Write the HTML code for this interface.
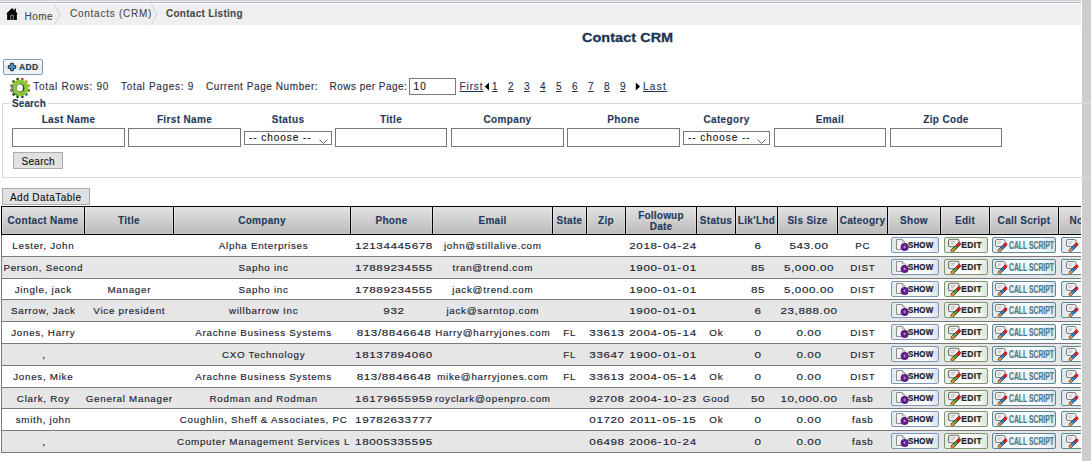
<!DOCTYPE html>
<html><head><meta charset="utf-8"><style>html,body{margin:0;padding:0;background:#fff;width:1091px;height:461px;overflow:hidden;position:relative}
.t{position:absolute;white-space:pre;line-height:1;font-family:"Liberation Sans",sans-serif;-webkit-text-stroke:0.12px currentColor}
.btn{position:absolute;width:48px;height:16px;box-sizing:border-box;border:1px solid #7b98bb;border-radius:2px;overflow:hidden}
.btn svg{position:absolute;left:-1px;top:-1px}
.btn b{position:absolute;top:3px;font:bold 8px/10px "Liberation Sans",sans-serif;color:#14202f;white-space:pre;-webkit-text-stroke:0.2px currentColor}
.show{width:48px;border-color:#7b98bb;background:linear-gradient(90deg,rgba(200,212,225,.5),rgba(255,255,255,0) 25%,rgba(255,255,255,0) 75%,rgba(200,212,225,.6)),linear-gradient(#fff,#eef2f5 50%,#fff)}
.edit{width:44px;border-color:#7d9870;background:linear-gradient(90deg,rgba(205,220,200,.5),rgba(255,255,255,0) 25%,rgba(255,255,255,0) 75%,rgba(205,220,200,.6)),linear-gradient(#fff,#eef3ec 50%,#fff)}
.cs{width:64px;border-color:#5b8797;background:linear-gradient(90deg,rgba(195,215,222,.5),rgba(255,255,255,0) 25%,rgba(255,255,255,0) 75%,rgba(195,215,222,.6)),linear-gradient(#fff,#ebf1f3 50%,#fff)}
.nt{width:60px;border-color:#5b8797;background:linear-gradient(90deg,rgba(195,215,222,.5),rgba(255,255,255,0) 25%),linear-gradient(#fff,#ebf1f3 50%,#fff)}
.csb{left:16px;top:1.5px !important;font-size:11px !important;line-height:11px !important;color:#4b7b8b !important;transform:scaleX(0.62);transform-origin:0 0;letter-spacing:0px}
.shb{left:16px;top:2px !important;font-size:9px !important;transform:scaleX(0.88);transform-origin:0 0;letter-spacing:0.2px}
.edb{left:16.3px;top:2px !important;color:#262626 !important;font-size:8.5px !important;letter-spacing:0.35px}
</style></head>
<body>
<div style="position:absolute;left:0px;top:0px;width:1081px;height:1px;background:#d3d3d3"></div>
<div style="position:absolute;left:0px;top:1px;width:1081px;height:1px;background:#f0f0ee"></div>
<div style="position:absolute;left:0px;top:2px;width:1081px;height:1px;background:#aab4cb"></div>
<div style="position:absolute;left:0px;top:4px;width:1081px;height:21px;background:#efefef"></div>
<div style="position:absolute;left:1082px;top:0px;width:9px;height:461px;background:#cdcdcd"></div>
<svg style="position:absolute;left:4px;top:5px" width="18" height="18" viewBox="0 0 18 18">
<rect x="10.6" y="3.6" width="1.4" height="3" fill="#000"/>
<polygon points="2.2,8.7 8,3 13.8,8.7" fill="#000"/>
<rect x="3.1" y="8.3" width="9.8" height="6.6" fill="#000"/>
<path d="M6.8 14.9 V10.3 H9.4 V14.9" fill="none" stroke="#9a9a9a" stroke-width="0.9"/>
</svg>
<div class="t" style="left:24.5px;top:11.54px;font-size:10px;color:#4a4a4a;font-weight:normal;letter-spacing:0.45px;">Home</div>
<svg style="position:absolute;left:0;top:0" width="200" height="30">
<polyline points="54,4 60,14.5 54,25" fill="none" stroke="#d2d2d2" stroke-width="1"/>
<polyline points="151,4 157,14.5 151,25" fill="none" stroke="#d2d2d2" stroke-width="1"/>
</svg>
<div class="t" style="left:70px;top:8.54px;font-size:10px;color:#4a4a4a;font-weight:normal;letter-spacing:0.75px;">Contacts (CRM)</div>
<div class="t" style="left:166px;top:8.54px;font-size:10px;color:#4a4a4a;font-weight:bold;letter-spacing:0.27px;">Contact Listing</div>
<div class="t" style="left:582px;top:31.0px;font-size:13px;color:#1c3352;font-weight:bold;letter-spacing:0.05px;transform:scaleX(1.11);transform-origin:0 0;-webkit-text-stroke:0.3px currentColor;">Contact CRM</div>
<div style="position:absolute;left:3px;top:59px;width:38px;height:14px;border:1px solid #7e9cb0;border-radius:2px;background:linear-gradient(#fbfcfc,#e3e9ec 55%,#f4f6f7)"></div>
<svg style="position:absolute;left:7px;top:62px" width="10" height="10" viewBox="0 0 10 10">
<path d="M3.6 1.3 H6.4 V3.6 H8.7 V6.4 H6.4 V8.7 H3.6 V6.4 H1.3 V3.6 H3.6 Z" fill="#3aa0e8" stroke="#3a2a22" stroke-width="1"/>
</svg>
<div class="t" style="left:19px;top:62.8px;font-size:8.5px;color:#1b3a52;font-weight:bold;letter-spacing:0.3px;">ADD</div>
<svg style="position:absolute;left:9px;top:77px" width="22" height="22" viewBox="0 0 22 22"><rect x="7.17" y="1.39" width="3.2" height="2.6" fill="#8cc43c" transform="rotate(-15 8.77 2.69)"/><rect x="11.63" y="1.39" width="3.2" height="2.6" fill="#8cc43c" transform="rotate(15 13.23 2.69)"/><rect x="15.48" y="3.62" width="3.2" height="2.6" fill="#8cc43c" transform="rotate(45 17.08 4.92)"/><rect x="17.71" y="7.47" width="3.2" height="2.6" fill="#8cc43c" transform="rotate(75 19.31 8.77)"/><rect x="17.71" y="11.93" width="3.2" height="2.6" fill="#8cc43c" transform="rotate(105 19.31 13.23)"/><rect x="15.48" y="15.78" width="3.2" height="2.6" fill="#8cc43c" transform="rotate(135 17.08 17.08)"/><rect x="11.63" y="18.01" width="3.2" height="2.6" fill="#8cc43c" transform="rotate(165 13.23 19.31)"/><rect x="7.17" y="18.01" width="3.2" height="2.6" fill="#8cc43c" transform="rotate(195 8.77 19.31)"/><rect x="3.32" y="15.78" width="3.2" height="2.6" fill="#8cc43c" transform="rotate(225 4.92 17.08)"/><rect x="1.09" y="11.93" width="3.2" height="2.6" fill="#8cc43c" transform="rotate(255 2.69 13.23)"/><rect x="1.09" y="7.47" width="3.2" height="2.6" fill="#8cc43c" transform="rotate(285 2.69 8.77)"/><rect x="3.32" y="3.62" width="3.2" height="2.6" fill="#8cc43c" transform="rotate(315 4.92 4.92)"/><circle cx="11" cy="11" r="8" fill="#8cc43c"/><circle cx="8.57" cy="1.92" r="1.05" fill="#1a1a50"/><circle cx="13.43" cy="1.92" r="1.05" fill="#d42a2a"/><circle cx="17.65" cy="4.35" r="1.05" fill="#f4a030"/><circle cx="20.08" cy="8.57" r="1.05" fill="#e09a30"/><circle cx="20.08" cy="13.43" r="1.05" fill="#3a5a20"/><circle cx="17.65" cy="17.65" r="1.05" fill="#2a5ab0"/><circle cx="13.43" cy="20.08" r="1.05" fill="#10207a"/><circle cx="8.57" cy="20.08" r="1.05" fill="#1a1a50"/><circle cx="4.35" cy="17.65" r="1.05" fill="#1a2a70"/><circle cx="1.92" cy="13.43" r="1.05" fill="#d04a9a"/><circle cx="1.92" cy="8.57" r="1.05" fill="#e060a0"/><circle cx="4.35" cy="4.35" r="1.05" fill="#202050"/><path d="M3.6 8 A7.8 7.8 0 0 0 8.5 18.5" fill="none" stroke="#1a2050" stroke-width="1" opacity="0.7"/><ellipse cx="11.8" cy="11" rx="3.5" ry="3.8" fill="#1a2050"/><ellipse cx="11.1" cy="10.9" rx="3" ry="3.4" fill="#fff"/></svg>
<div class="t" style="left:33.3px;top:81.53px;font-size:10px;color:#2d2d44;font-weight:normal;letter-spacing:0.72px;">Total Rows: 90</div>
<div class="t" style="left:121px;top:81.53px;font-size:10px;color:#2d2d44;font-weight:normal;letter-spacing:0.68px;">Total Pages: 9</div>
<div class="t" style="left:206px;top:81.53px;font-size:10px;color:#2d2d44;font-weight:normal;letter-spacing:0.58px;">Current Page Number:</div>
<div class="t" style="left:329.5px;top:81.53px;font-size:10px;color:#2d2d44;font-weight:normal;letter-spacing:0.48px;">Rows per Page:</div>
<div style="position:absolute;left:409px;top:78px;width:45px;height:15px;border:1px solid #7a7a7a;background:#fff"></div>
<div class="t" style="left:413.5px;top:81.53px;font-size:10px;color:#111;font-weight:normal;letter-spacing:1.2px;">10</div>
<div class="t" style="left:459.5px;top:81.53px;font-size:10px;color:#1c3352;font-weight:normal;letter-spacing:0.9px;text-decoration:underline;">First</div>
<svg style="position:absolute;left:484px;top:82px" width="6" height="9"><polygon points="5,0.5 5,8.5 0.8,4.5" fill="#000"/></svg>
<div class="t" style="left:492px;top:81.53px;font-size:10px;color:#1c3352;font-weight:normal;letter-spacing:0px;text-decoration:underline;">1</div>
<div class="t" style="left:508px;top:81.53px;font-size:10px;color:#1c3352;font-weight:normal;letter-spacing:0px;text-decoration:underline;">2</div>
<div class="t" style="left:524px;top:81.53px;font-size:10px;color:#1c3352;font-weight:normal;letter-spacing:0px;text-decoration:underline;">3</div>
<div class="t" style="left:540px;top:81.53px;font-size:10px;color:#1c3352;font-weight:normal;letter-spacing:0px;text-decoration:underline;">4</div>
<div class="t" style="left:556px;top:81.53px;font-size:10px;color:#1c3352;font-weight:normal;letter-spacing:0px;text-decoration:underline;">5</div>
<div class="t" style="left:572px;top:81.53px;font-size:10px;color:#1c3352;font-weight:normal;letter-spacing:0px;text-decoration:underline;">6</div>
<div class="t" style="left:588px;top:81.53px;font-size:10px;color:#1c3352;font-weight:normal;letter-spacing:0px;text-decoration:underline;">7</div>
<div class="t" style="left:604px;top:81.53px;font-size:10px;color:#1c3352;font-weight:normal;letter-spacing:0px;text-decoration:underline;">8</div>
<div class="t" style="left:620px;top:81.53px;font-size:10px;color:#1c3352;font-weight:normal;letter-spacing:0px;text-decoration:underline;">9</div>
<svg style="position:absolute;left:635px;top:82px" width="6" height="9"><polygon points="0.8,0.5 0.8,8.5 5,4.5" fill="#000"/></svg>
<div class="t" style="left:643px;top:81.53px;font-size:10px;color:#1c3352;font-weight:normal;letter-spacing:1.3px;text-decoration:underline;">Last</div>
<div style="position:absolute;left:2px;top:103px;width:1090px;height:75px;border:1px solid #dadada;border-right:none;box-sizing:border-box"></div>
<div style="position:absolute;left:10px;top:98px;width:38px;height:10px;background:#fff"></div>
<div class="t" style="left:12px;top:98.53px;font-size:10px;color:#1f3a5c;font-weight:bold;letter-spacing:0.1px;">Search</div>
<div class="t" style="left:-231.5px;width:600px;text-align:center;top:114.53px;font-size:10px;color:#1f3a5c;font-weight:bold;letter-spacing:0.35px;">Last Name</div>
<div style="position:absolute;left:12px;top:128px;width:111px;height:17px;border:1px solid #777;background:#fff"></div>
<div class="t" style="left:-115.5px;width:600px;text-align:center;top:114.53px;font-size:10px;color:#1f3a5c;font-weight:bold;letter-spacing:0.35px;">First Name</div>
<div style="position:absolute;left:128px;top:128px;width:111px;height:17px;border:1px solid #777;background:#fff"></div>
<div class="t" style="left:-12.0px;width:600px;text-align:center;top:114.53px;font-size:10px;color:#1f3a5c;font-weight:bold;letter-spacing:0.35px;">Status</div>
<div style="position:absolute;left:244px;top:131px;width:86px;height:12px;border:1px solid #777;background:#fff"></div>
<div class="t" style="left:249px;top:132.53px;font-size:10px;color:#111;font-weight:normal;letter-spacing:0.95px;">-- choose --</div>
<svg style="position:absolute;left:319px;top:139px" width="9" height="5"><polyline points="0.5,0.5 4.5,4.5 8.5,0.5" fill="none" stroke="#555" stroke-width="0.9"/></svg>
<div class="t" style="left:91.0px;width:600px;text-align:center;top:114.53px;font-size:10px;color:#1f3a5c;font-weight:bold;letter-spacing:0.35px;">Title</div>
<div style="position:absolute;left:335px;top:128px;width:110px;height:17px;border:1px solid #777;background:#fff"></div>
<div class="t" style="left:207.5px;width:600px;text-align:center;top:114.53px;font-size:10px;color:#1f3a5c;font-weight:bold;letter-spacing:0.35px;">Company</div>
<div style="position:absolute;left:451px;top:128px;width:111px;height:17px;border:1px solid #777;background:#fff"></div>
<div class="t" style="left:323.5px;width:600px;text-align:center;top:114.53px;font-size:10px;color:#1f3a5c;font-weight:bold;letter-spacing:0.35px;">Phone</div>
<div style="position:absolute;left:567px;top:128px;width:111px;height:17px;border:1px solid #777;background:#fff"></div>
<div class="t" style="left:426.5px;width:600px;text-align:center;top:114.53px;font-size:10px;color:#1f3a5c;font-weight:bold;letter-spacing:0.35px;">Category</div>
<div style="position:absolute;left:683px;top:131px;width:85px;height:12px;border:1px solid #777;background:#fff"></div>
<div class="t" style="left:688px;top:132.53px;font-size:10px;color:#111;font-weight:normal;letter-spacing:0.95px;">-- choose --</div>
<svg style="position:absolute;left:757px;top:139px" width="9" height="5"><polyline points="0.5,0.5 4.5,4.5 8.5,0.5" fill="none" stroke="#555" stroke-width="0.9"/></svg>
<div class="t" style="left:530.0px;width:600px;text-align:center;top:114.53px;font-size:10px;color:#1f3a5c;font-weight:bold;letter-spacing:0.35px;">Email</div>
<div style="position:absolute;left:774px;top:128px;width:110px;height:17px;border:1px solid #777;background:#fff"></div>
<div class="t" style="left:646.0px;width:600px;text-align:center;top:114.53px;font-size:10px;color:#1f3a5c;font-weight:bold;letter-spacing:0.35px;">Zip Code</div>
<div style="position:absolute;left:890px;top:128px;width:110px;height:17px;border:1px solid #777;background:#fff"></div>
<div style="position:absolute;left:13px;top:152px;width:48px;height:15px;border:1px solid #adadad;background:#e1e1e1"></div>
<div class="t" style="left:21.5px;top:156.53px;font-size:10px;color:#111;font-weight:normal;letter-spacing:0.3px;">Search</div>
<div style="position:absolute;left:2px;top:188px;width:86px;height:15px;border:1px solid #adadad;background:#e1e1e1"></div>
<div class="t" style="left:10px;top:192.53px;font-size:10px;color:#111;font-weight:normal;letter-spacing:0.45px;">Add DataTable</div>
<svg width="0" height="0" style="position:absolute">
<defs>
<symbol id="ishow" viewBox="0 0 48 16">
<path d="M5.5 2.5 H11.5 L14 5 V12.5 H5.5 Z" fill="#f2f2f2" stroke="#8e8e8e" stroke-width="1"/>
<path d="M11.5 2.5 V5 H14" fill="#ddd" stroke="#9a9a9a" stroke-width="0.8"/>
<circle cx="13.6" cy="10.1" r="4" fill="#5e1f88"/>
<path d="M12.3 9.9 H14.9 M13.6 8.6 V11.2" stroke="#c890e8" stroke-width="0.9"/>
</symbol>
<symbol id="iedit" viewBox="0 0 44 16">
<rect x="4.6" y="2.2" width="10.4" height="7.6" rx="1.8" fill="#f3f3f3" stroke="#6a6a6a" stroke-width="1.1"/>
<path d="M6.8 4.8 H11.5 M6.8 6.8 H10" stroke="#aaa" stroke-width="0.9"/>
<path d="M8.3 13.8 L15 7.1" stroke="#1a2a1a" stroke-width="3.4" stroke-linecap="round"/>
<path d="M8.6 13.5 L14.7 7.4" stroke="#44c030" stroke-width="1.9"/>
<path d="M13.7 8.4 L15.3 6.8" stroke="#e01818" stroke-width="2.8" stroke-linecap="round"/>
<path d="M8.1 14 L9.5 12.6" stroke="#f08a30" stroke-width="2.2" stroke-linecap="round"/>
</symbol>
<symbol id="ics" viewBox="0 0 64 16">
<rect x="3.5" y="2.5" width="9.5" height="7" rx="1.6" fill="#f3f3f3" stroke="#7a7a7a" stroke-width="1"/>
<path d="M5.5 5 H9.5 M5.5 6.8 H8.5" stroke="#b0b0b0" stroke-width="0.8"/>
<path d="M7.3 13.7 L13.5 7.5" stroke="#1a2a4a" stroke-width="3.2" stroke-linecap="round"/>
<path d="M7.5 13.5 L13.3 7.7" stroke="#2a90e0" stroke-width="1.8"/>
<path d="M12.4 8.6 L14 7" stroke="#e02020" stroke-width="2.6" stroke-linecap="round"/>
<path d="M7 14 L8.4 12.6" stroke="#f08a30" stroke-width="2.2" stroke-linecap="round"/>
</symbol>
</defs></svg>
<div style="position:absolute;left:0;top:0;width:1081px;height:461px;overflow:hidden">
<div style="position:absolute;left:1px;top:206px;width:1200px;height:29px;background:#000"></div>
<div style="position:absolute;left:2px;top:207px;width:82px;height:27px;background:linear-gradient(#e3e3e3,#bababa);box-shadow:inset 1px 0 0 rgba(255,255,255,.3),inset -1px 0 0 rgba(255,255,255,.2),inset 0 -1px 0 rgba(255,255,255,.2)"></div>
<div class="t" style="left:-257.0px;width:600px;text-align:center;top:215.53px;font-size:10px;color:#1f3a5c;font-weight:bold;letter-spacing:0.3px;">Contact Name</div>
<div style="position:absolute;left:85px;top:207px;width:88px;height:27px;background:linear-gradient(#e3e3e3,#bababa);box-shadow:inset 1px 0 0 rgba(255,255,255,.3),inset -1px 0 0 rgba(255,255,255,.2),inset 0 -1px 0 rgba(255,255,255,.2)"></div>
<div class="t" style="left:-171.0px;width:600px;text-align:center;top:215.53px;font-size:10px;color:#1f3a5c;font-weight:bold;letter-spacing:0.3px;">Title</div>
<div style="position:absolute;left:174px;top:207px;width:176px;height:27px;background:linear-gradient(#e3e3e3,#bababa);box-shadow:inset 1px 0 0 rgba(255,255,255,.3),inset -1px 0 0 rgba(255,255,255,.2),inset 0 -1px 0 rgba(255,255,255,.2)"></div>
<div class="t" style="left:-38.0px;width:600px;text-align:center;top:215.53px;font-size:10px;color:#1f3a5c;font-weight:bold;letter-spacing:0.3px;">Company</div>
<div style="position:absolute;left:351px;top:207px;width:81px;height:27px;background:linear-gradient(#e3e3e3,#bababa);box-shadow:inset 1px 0 0 rgba(255,255,255,.3),inset -1px 0 0 rgba(255,255,255,.2),inset 0 -1px 0 rgba(255,255,255,.2)"></div>
<div class="t" style="left:91.5px;width:600px;text-align:center;top:215.53px;font-size:10px;color:#1f3a5c;font-weight:bold;letter-spacing:0.3px;">Phone</div>
<div style="position:absolute;left:433px;top:207px;width:119px;height:27px;background:linear-gradient(#e3e3e3,#bababa);box-shadow:inset 1px 0 0 rgba(255,255,255,.3),inset -1px 0 0 rgba(255,255,255,.2),inset 0 -1px 0 rgba(255,255,255,.2)"></div>
<div class="t" style="left:192.5px;width:600px;text-align:center;top:215.53px;font-size:10px;color:#1f3a5c;font-weight:bold;letter-spacing:0.3px;">Email</div>
<div style="position:absolute;left:553px;top:207px;width:33px;height:27px;background:linear-gradient(#e3e3e3,#bababa);box-shadow:inset 1px 0 0 rgba(255,255,255,.3),inset -1px 0 0 rgba(255,255,255,.2),inset 0 -1px 0 rgba(255,255,255,.2)"></div>
<div class="t" style="left:269.5px;width:600px;text-align:center;top:215.53px;font-size:10px;color:#1f3a5c;font-weight:bold;letter-spacing:0.3px;">State</div>
<div style="position:absolute;left:587px;top:207px;width:38px;height:27px;background:linear-gradient(#e3e3e3,#bababa);box-shadow:inset 1px 0 0 rgba(255,255,255,.3),inset -1px 0 0 rgba(255,255,255,.2),inset 0 -1px 0 rgba(255,255,255,.2)"></div>
<div class="t" style="left:306.0px;width:600px;text-align:center;top:215.53px;font-size:10px;color:#1f3a5c;font-weight:bold;letter-spacing:0.3px;">Zip</div>
<div style="position:absolute;left:626px;top:207px;width:70px;height:27px;background:linear-gradient(#e3e3e3,#bababa);box-shadow:inset 1px 0 0 rgba(255,255,255,.3),inset -1px 0 0 rgba(255,255,255,.2),inset 0 -1px 0 rgba(255,255,255,.2)"></div>
<div class="t" style="left:361.0px;width:600px;text-align:center;top:210.53px;font-size:10px;color:#1f3a5c;font-weight:bold;letter-spacing:0.2px;">Followup</div>
<div class="t" style="left:361.0px;width:600px;text-align:center;top:221.53px;font-size:10px;color:#1f3a5c;font-weight:bold;letter-spacing:0.2px;">Date</div>
<div style="position:absolute;left:697px;top:207px;width:38px;height:27px;background:linear-gradient(#e3e3e3,#bababa);box-shadow:inset 1px 0 0 rgba(255,255,255,.3),inset -1px 0 0 rgba(255,255,255,.2),inset 0 -1px 0 rgba(255,255,255,.2)"></div>
<div class="t" style="left:416.0px;width:600px;text-align:center;top:215.53px;font-size:10px;color:#1f3a5c;font-weight:bold;letter-spacing:0.3px;">Status</div>
<div style="position:absolute;left:736px;top:207px;width:41px;height:27px;background:linear-gradient(#e3e3e3,#bababa);box-shadow:inset 1px 0 0 rgba(255,255,255,.3),inset -1px 0 0 rgba(255,255,255,.2),inset 0 -1px 0 rgba(255,255,255,.2)"></div>
<div class="t" style="left:456.5px;width:600px;text-align:center;top:215.53px;font-size:10px;color:#1f3a5c;font-weight:bold;letter-spacing:0.3px;">Lik&#x27;Lhd</div>
<div style="position:absolute;left:778px;top:207px;width:59px;height:27px;background:linear-gradient(#e3e3e3,#bababa);box-shadow:inset 1px 0 0 rgba(255,255,255,.3),inset -1px 0 0 rgba(255,255,255,.2),inset 0 -1px 0 rgba(255,255,255,.2)"></div>
<div class="t" style="left:507.5px;width:600px;text-align:center;top:215.53px;font-size:10px;color:#1f3a5c;font-weight:bold;letter-spacing:0.3px;">Sls Size</div>
<div style="position:absolute;left:838px;top:207px;width:49px;height:27px;background:linear-gradient(#e3e3e3,#bababa);box-shadow:inset 1px 0 0 rgba(255,255,255,.3),inset -1px 0 0 rgba(255,255,255,.2),inset 0 -1px 0 rgba(255,255,255,.2)"></div>
<div class="t" style="left:562.5px;width:600px;text-align:center;top:215.53px;font-size:10px;color:#1f3a5c;font-weight:bold;letter-spacing:0.3px;">Cateogry</div>
<div style="position:absolute;left:888px;top:207px;width:52px;height:27px;background:linear-gradient(#e3e3e3,#bababa);box-shadow:inset 1px 0 0 rgba(255,255,255,.3),inset -1px 0 0 rgba(255,255,255,.2),inset 0 -1px 0 rgba(255,255,255,.2)"></div>
<div class="t" style="left:614.0px;width:600px;text-align:center;top:215.53px;font-size:10px;color:#1f3a5c;font-weight:bold;letter-spacing:0.3px;">Show</div>
<div style="position:absolute;left:941px;top:207px;width:48px;height:27px;background:linear-gradient(#e3e3e3,#bababa);box-shadow:inset 1px 0 0 rgba(255,255,255,.3),inset -1px 0 0 rgba(255,255,255,.2),inset 0 -1px 0 rgba(255,255,255,.2)"></div>
<div class="t" style="left:665.0px;width:600px;text-align:center;top:215.53px;font-size:10px;color:#1f3a5c;font-weight:bold;letter-spacing:0.3px;">Edit</div>
<div style="position:absolute;left:990px;top:207px;width:68px;height:27px;background:linear-gradient(#e3e3e3,#bababa);box-shadow:inset 1px 0 0 rgba(255,255,255,.3),inset -1px 0 0 rgba(255,255,255,.2),inset 0 -1px 0 rgba(255,255,255,.2)"></div>
<div class="t" style="left:724.0px;width:600px;text-align:center;top:215.53px;font-size:10px;color:#1f3a5c;font-weight:bold;letter-spacing:0.3px;">Call Script</div>
<div style="position:absolute;left:1059px;top:207px;width:141px;height:27px;background:linear-gradient(#e3e3e3,#bababa);box-shadow:inset 1px 0 0 rgba(255,255,255,.3),inset -1px 0 0 rgba(255,255,255,.2),inset 0 -1px 0 rgba(255,255,255,.2)"></div>
<div class="t" style="left:1069.5px;top:215.53px;font-size:10px;color:#1f3a5c;font-weight:bold;letter-spacing:0.3px;">Notes</div>
<div style="position:absolute;left:2px;top:235px;width:1200px;height:21px;background:#fff"></div>
<div style="position:absolute;left:1px;top:256px;width:1200px;height:1px;background:#7a7a7a"></div>
<div style="position:absolute;left:1px;top:235px;width:1px;height:21px;background:#7a7a7a"></div>
<div class="t" style="left:-256.7px;width:600px;text-align:center;top:240.7px;font-size:9.8px;color:#202432;font-weight:normal;letter-spacing:0.72px;-webkit-text-stroke:0.15px currentColor;">Lester, John</div>
<div class="t" style="left:-36.39999999999998px;width:600px;text-align:center;top:240.7px;font-size:9.8px;color:#202432;font-weight:normal;letter-spacing:0.72px;-webkit-text-stroke:0.15px currentColor;">Alpha Enterprises</div>
<div class="t" style="left:94.0px;width:600px;text-align:center;top:240.7px;font-size:9.8px;color:#202432;letter-spacing:0.5px;transform:scaleX(1.19);transform-origin:300px 0;-webkit-text-stroke:0.15px currentColor">12134445678</div>
<div class="t" style="left:192.8px;width:600px;text-align:center;top:240.7px;font-size:9.8px;color:#202432;font-weight:normal;letter-spacing:0.72px;-webkit-text-stroke:0.15px currentColor;">john@stillalive.com</div>
<div class="t" style="left:362.79999999999995px;width:600px;text-align:center;top:240.7px;font-size:9.8px;color:#202432;letter-spacing:0.5px;transform:scaleX(1.19);transform-origin:300px 0;-webkit-text-stroke:0.15px currentColor">2018<span style="letter-spacing:1.3px">-</span>04<span style="letter-spacing:1.3px">-</span>24</div>
<div class="t" style="left:457.5px;width:600px;text-align:center;top:240.7px;font-size:9.8px;color:#202432;letter-spacing:0.5px;transform:scaleX(1.19);transform-origin:300px 0;-webkit-text-stroke:0.15px currentColor">6</div>
<div class="t" style="left:508.5px;width:600px;text-align:center;top:240.7px;font-size:9.8px;color:#202432;letter-spacing:0.5px;transform:scaleX(1.19);transform-origin:300px 0;-webkit-text-stroke:0.15px currentColor">543.00</div>
<div class="t" style="left:562.8px;width:600px;text-align:center;top:240.7px;font-size:9.8px;color:#202432;font-weight:normal;letter-spacing:0.72px;-webkit-text-stroke:0.15px currentColor;">PC</div>
<div class="btn show" style="left:891px;top:237px"><svg width="48" height="16"><use href="#ishow"/></svg><b class="shb">SHOW</b></div>
<div class="btn edit" style="left:944px;top:237px"><svg width="44" height="16"><use href="#iedit"/></svg><b class="edb">EDIT</b></div>
<div class="btn cs" style="left:992px;top:237px"><svg width="64" height="16"><use href="#ics"/></svg><b class="csb">CALL SCRIPT</b></div>
<div class="btn nt" style="left:1061px;top:237px"><svg width="64" height="16" style="left:1px"><use href="#ics"/></svg></div>
<div style="position:absolute;left:2px;top:257px;width:1200px;height:21px;background:#e6e6e6"></div>
<div style="position:absolute;left:1px;top:278px;width:1200px;height:1px;background:#7a7a7a"></div>
<div style="position:absolute;left:1px;top:257px;width:1px;height:21px;background:#7a7a7a"></div>
<div class="t" style="left:-256.7px;width:600px;text-align:center;top:262.7px;font-size:9.8px;color:#202432;font-weight:normal;letter-spacing:0.72px;-webkit-text-stroke:0.15px currentColor;">Person, Second</div>
<div class="t" style="left:-36.39999999999998px;width:600px;text-align:center;top:262.7px;font-size:9.8px;color:#202432;font-weight:normal;letter-spacing:0.72px;-webkit-text-stroke:0.15px currentColor;">Sapho inc</div>
<div class="t" style="left:94.0px;width:600px;text-align:center;top:262.7px;font-size:9.8px;color:#202432;letter-spacing:0.5px;transform:scaleX(1.19);transform-origin:300px 0;-webkit-text-stroke:0.15px currentColor">17889234555</div>
<div class="t" style="left:192.8px;width:600px;text-align:center;top:262.7px;font-size:9.8px;color:#202432;font-weight:normal;letter-spacing:0.72px;-webkit-text-stroke:0.15px currentColor;">tran@trend.com</div>
<div class="t" style="left:362.79999999999995px;width:600px;text-align:center;top:262.7px;font-size:9.8px;color:#202432;letter-spacing:0.5px;transform:scaleX(1.19);transform-origin:300px 0;-webkit-text-stroke:0.15px currentColor">1900<span style="letter-spacing:1.3px">-</span>01<span style="letter-spacing:1.3px">-</span>01</div>
<div class="t" style="left:457.5px;width:600px;text-align:center;top:262.7px;font-size:9.8px;color:#202432;letter-spacing:0.5px;transform:scaleX(1.19);transform-origin:300px 0;-webkit-text-stroke:0.15px currentColor">85</div>
<div class="t" style="left:508.5px;width:600px;text-align:center;top:262.7px;font-size:9.8px;color:#202432;letter-spacing:0.5px;transform:scaleX(1.19);transform-origin:300px 0;-webkit-text-stroke:0.15px currentColor">5,000.00</div>
<div class="t" style="left:562.8px;width:600px;text-align:center;top:262.7px;font-size:9.8px;color:#202432;font-weight:normal;letter-spacing:0.72px;-webkit-text-stroke:0.15px currentColor;">DIST</div>
<div class="btn show" style="left:891px;top:259px"><svg width="48" height="16"><use href="#ishow"/></svg><b class="shb">SHOW</b></div>
<div class="btn edit" style="left:944px;top:259px"><svg width="44" height="16"><use href="#iedit"/></svg><b class="edb">EDIT</b></div>
<div class="btn cs" style="left:992px;top:259px"><svg width="64" height="16"><use href="#ics"/></svg><b class="csb">CALL SCRIPT</b></div>
<div class="btn nt" style="left:1061px;top:259px"><svg width="64" height="16" style="left:1px"><use href="#ics"/></svg></div>
<div style="position:absolute;left:2px;top:279px;width:1200px;height:20px;background:#fff"></div>
<div style="position:absolute;left:1px;top:299px;width:1200px;height:1px;background:#7a7a7a"></div>
<div style="position:absolute;left:1px;top:279px;width:1px;height:20px;background:#7a7a7a"></div>
<div class="t" style="left:-256.7px;width:600px;text-align:center;top:284.7px;font-size:9.8px;color:#202432;font-weight:normal;letter-spacing:0.72px;-webkit-text-stroke:0.15px currentColor;">Jingle, jack</div>
<div class="t" style="left:-170.7px;width:600px;text-align:center;top:284.7px;font-size:9.8px;color:#202432;font-weight:normal;letter-spacing:0.72px;-webkit-text-stroke:0.15px currentColor;">Manager</div>
<div class="t" style="left:-36.39999999999998px;width:600px;text-align:center;top:284.7px;font-size:9.8px;color:#202432;font-weight:normal;letter-spacing:0.72px;-webkit-text-stroke:0.15px currentColor;">Sapho inc</div>
<div class="t" style="left:94.0px;width:600px;text-align:center;top:284.7px;font-size:9.8px;color:#202432;letter-spacing:0.5px;transform:scaleX(1.19);transform-origin:300px 0;-webkit-text-stroke:0.15px currentColor">17889234555</div>
<div class="t" style="left:192.8px;width:600px;text-align:center;top:284.7px;font-size:9.8px;color:#202432;font-weight:normal;letter-spacing:0.72px;-webkit-text-stroke:0.15px currentColor;">jack@trend.com</div>
<div class="t" style="left:362.79999999999995px;width:600px;text-align:center;top:284.7px;font-size:9.8px;color:#202432;letter-spacing:0.5px;transform:scaleX(1.19);transform-origin:300px 0;-webkit-text-stroke:0.15px currentColor">1900<span style="letter-spacing:1.3px">-</span>01<span style="letter-spacing:1.3px">-</span>01</div>
<div class="t" style="left:457.5px;width:600px;text-align:center;top:284.7px;font-size:9.8px;color:#202432;letter-spacing:0.5px;transform:scaleX(1.19);transform-origin:300px 0;-webkit-text-stroke:0.15px currentColor">85</div>
<div class="t" style="left:508.5px;width:600px;text-align:center;top:284.7px;font-size:9.8px;color:#202432;letter-spacing:0.5px;transform:scaleX(1.19);transform-origin:300px 0;-webkit-text-stroke:0.15px currentColor">5,000.00</div>
<div class="t" style="left:562.8px;width:600px;text-align:center;top:284.7px;font-size:9.8px;color:#202432;font-weight:normal;letter-spacing:0.72px;-webkit-text-stroke:0.15px currentColor;">DIST</div>
<div class="btn show" style="left:891px;top:281px"><svg width="48" height="16"><use href="#ishow"/></svg><b class="shb">SHOW</b></div>
<div class="btn edit" style="left:944px;top:281px"><svg width="44" height="16"><use href="#iedit"/></svg><b class="edb">EDIT</b></div>
<div class="btn cs" style="left:992px;top:281px"><svg width="64" height="16"><use href="#ics"/></svg><b class="csb">CALL SCRIPT</b></div>
<div class="btn nt" style="left:1061px;top:281px"><svg width="64" height="16" style="left:1px"><use href="#ics"/></svg></div>
<div style="position:absolute;left:2px;top:300px;width:1200px;height:21px;background:#e6e6e6"></div>
<div style="position:absolute;left:1px;top:321px;width:1200px;height:1px;background:#7a7a7a"></div>
<div style="position:absolute;left:1px;top:300px;width:1px;height:21px;background:#7a7a7a"></div>
<div class="t" style="left:-256.7px;width:600px;text-align:center;top:305.7px;font-size:9.8px;color:#202432;font-weight:normal;letter-spacing:0.72px;-webkit-text-stroke:0.15px currentColor;">Sarrow, Jack</div>
<div class="t" style="left:-170.7px;width:600px;text-align:center;top:305.7px;font-size:9.8px;color:#202432;font-weight:normal;letter-spacing:0.72px;-webkit-text-stroke:0.15px currentColor;">Vice president</div>
<div class="t" style="left:-36.39999999999998px;width:600px;text-align:center;top:305.7px;font-size:9.8px;color:#202432;font-weight:normal;letter-spacing:0.72px;-webkit-text-stroke:0.15px currentColor;">willbarrow Inc</div>
<div class="t" style="left:94.0px;width:600px;text-align:center;top:305.7px;font-size:9.8px;color:#202432;letter-spacing:0.5px;transform:scaleX(1.19);transform-origin:300px 0;-webkit-text-stroke:0.15px currentColor">932</div>
<div class="t" style="left:192.8px;width:600px;text-align:center;top:305.7px;font-size:9.8px;color:#202432;font-weight:normal;letter-spacing:0.72px;-webkit-text-stroke:0.15px currentColor;">jack@sarntop.com</div>
<div class="t" style="left:362.79999999999995px;width:600px;text-align:center;top:305.7px;font-size:9.8px;color:#202432;letter-spacing:0.5px;transform:scaleX(1.19);transform-origin:300px 0;-webkit-text-stroke:0.15px currentColor">1900<span style="letter-spacing:1.3px">-</span>01<span style="letter-spacing:1.3px">-</span>01</div>
<div class="t" style="left:457.5px;width:600px;text-align:center;top:305.7px;font-size:9.8px;color:#202432;letter-spacing:0.5px;transform:scaleX(1.19);transform-origin:300px 0;-webkit-text-stroke:0.15px currentColor">6</div>
<div class="t" style="left:508.5px;width:600px;text-align:center;top:305.7px;font-size:9.8px;color:#202432;letter-spacing:0.5px;transform:scaleX(1.19);transform-origin:300px 0;-webkit-text-stroke:0.15px currentColor">23,888.00</div>
<div class="btn show" style="left:891px;top:302px"><svg width="48" height="16"><use href="#ishow"/></svg><b class="shb">SHOW</b></div>
<div class="btn edit" style="left:944px;top:302px"><svg width="44" height="16"><use href="#iedit"/></svg><b class="edb">EDIT</b></div>
<div class="btn cs" style="left:992px;top:302px"><svg width="64" height="16"><use href="#ics"/></svg><b class="csb">CALL SCRIPT</b></div>
<div class="btn nt" style="left:1061px;top:302px"><svg width="64" height="16" style="left:1px"><use href="#ics"/></svg></div>
<div style="position:absolute;left:2px;top:322px;width:1200px;height:21px;background:#fff"></div>
<div style="position:absolute;left:1px;top:343px;width:1200px;height:1px;background:#7a7a7a"></div>
<div style="position:absolute;left:1px;top:322px;width:1px;height:21px;background:#7a7a7a"></div>
<div class="t" style="left:-256.7px;width:600px;text-align:center;top:327.7px;font-size:9.8px;color:#202432;font-weight:normal;letter-spacing:0.72px;-webkit-text-stroke:0.15px currentColor;">Jones, Harry</div>
<div class="t" style="left:-36.39999999999998px;width:600px;text-align:center;top:327.7px;font-size:9.8px;color:#202432;font-weight:normal;letter-spacing:0.72px;-webkit-text-stroke:0.15px currentColor;">Arachne Business Systems</div>
<div class="t" style="left:94.0px;width:600px;text-align:center;top:327.7px;font-size:9.8px;color:#202432;letter-spacing:0.5px;transform:scaleX(1.19);transform-origin:300px 0;-webkit-text-stroke:0.15px currentColor">813/8846648</div>
<div class="t" style="left:192.8px;width:600px;text-align:center;top:327.7px;font-size:9.8px;color:#202432;font-weight:normal;letter-spacing:0.72px;-webkit-text-stroke:0.15px currentColor;">Harry@harryjones.com</div>
<div class="t" style="left:269.79999999999995px;width:600px;text-align:center;top:327.7px;font-size:9.8px;color:#202432;font-weight:normal;letter-spacing:0.72px;-webkit-text-stroke:0.15px currentColor;">FL</div>
<div class="t" style="left:307.0px;width:600px;text-align:center;top:327.7px;font-size:9.8px;color:#202432;letter-spacing:0.5px;transform:scaleX(1.19);transform-origin:300px 0;-webkit-text-stroke:0.15px currentColor">33613</div>
<div class="t" style="left:362.79999999999995px;width:600px;text-align:center;top:327.7px;font-size:9.8px;color:#202432;letter-spacing:0.5px;transform:scaleX(1.19);transform-origin:300px 0;-webkit-text-stroke:0.15px currentColor">2004<span style="letter-spacing:1.3px">-</span>05<span style="letter-spacing:1.3px">-</span>14</div>
<div class="t" style="left:416.29999999999995px;width:600px;text-align:center;top:327.7px;font-size:9.8px;color:#202432;font-weight:normal;letter-spacing:0.72px;-webkit-text-stroke:0.15px currentColor;">Ok</div>
<div class="t" style="left:457.5px;width:600px;text-align:center;top:327.7px;font-size:9.8px;color:#202432;letter-spacing:0.5px;transform:scaleX(1.19);transform-origin:300px 0;-webkit-text-stroke:0.15px currentColor">0</div>
<div class="t" style="left:508.5px;width:600px;text-align:center;top:327.7px;font-size:9.8px;color:#202432;letter-spacing:0.5px;transform:scaleX(1.19);transform-origin:300px 0;-webkit-text-stroke:0.15px currentColor">0.00</div>
<div class="t" style="left:562.8px;width:600px;text-align:center;top:327.7px;font-size:9.8px;color:#202432;font-weight:normal;letter-spacing:0.72px;-webkit-text-stroke:0.15px currentColor;">DIST</div>
<div class="btn show" style="left:891px;top:324px"><svg width="48" height="16"><use href="#ishow"/></svg><b class="shb">SHOW</b></div>
<div class="btn edit" style="left:944px;top:324px"><svg width="44" height="16"><use href="#iedit"/></svg><b class="edb">EDIT</b></div>
<div class="btn cs" style="left:992px;top:324px"><svg width="64" height="16"><use href="#ics"/></svg><b class="csb">CALL SCRIPT</b></div>
<div class="btn nt" style="left:1061px;top:324px"><svg width="64" height="16" style="left:1px"><use href="#ics"/></svg></div>
<div style="position:absolute;left:2px;top:344px;width:1200px;height:21px;background:#e6e6e6"></div>
<div style="position:absolute;left:1px;top:365px;width:1200px;height:1px;background:#7a7a7a"></div>
<div style="position:absolute;left:1px;top:344px;width:1px;height:21px;background:#7a7a7a"></div>
<div class="t" style="left:-256.0px;width:600px;text-align:center;top:349.7px;font-size:9.8px;color:#202432;letter-spacing:0.5px;transform:scaleX(1.19);transform-origin:300px 0;-webkit-text-stroke:0.15px currentColor">,</div>
<div class="t" style="left:-36.39999999999998px;width:600px;text-align:center;top:349.7px;font-size:9.8px;color:#202432;font-weight:normal;letter-spacing:0.72px;-webkit-text-stroke:0.15px currentColor;">CXO Technology</div>
<div class="t" style="left:94.0px;width:600px;text-align:center;top:349.7px;font-size:9.8px;color:#202432;letter-spacing:0.5px;transform:scaleX(1.19);transform-origin:300px 0;-webkit-text-stroke:0.15px currentColor">18137894060</div>
<div class="t" style="left:269.79999999999995px;width:600px;text-align:center;top:349.7px;font-size:9.8px;color:#202432;font-weight:normal;letter-spacing:0.72px;-webkit-text-stroke:0.15px currentColor;">FL</div>
<div class="t" style="left:307.0px;width:600px;text-align:center;top:349.7px;font-size:9.8px;color:#202432;letter-spacing:0.5px;transform:scaleX(1.19);transform-origin:300px 0;-webkit-text-stroke:0.15px currentColor">33647</div>
<div class="t" style="left:362.79999999999995px;width:600px;text-align:center;top:349.7px;font-size:9.8px;color:#202432;letter-spacing:0.5px;transform:scaleX(1.19);transform-origin:300px 0;-webkit-text-stroke:0.15px currentColor">1900<span style="letter-spacing:1.3px">-</span>01<span style="letter-spacing:1.3px">-</span>01</div>
<div class="t" style="left:457.5px;width:600px;text-align:center;top:349.7px;font-size:9.8px;color:#202432;letter-spacing:0.5px;transform:scaleX(1.19);transform-origin:300px 0;-webkit-text-stroke:0.15px currentColor">0</div>
<div class="t" style="left:508.5px;width:600px;text-align:center;top:349.7px;font-size:9.8px;color:#202432;letter-spacing:0.5px;transform:scaleX(1.19);transform-origin:300px 0;-webkit-text-stroke:0.15px currentColor">0.00</div>
<div class="t" style="left:562.8px;width:600px;text-align:center;top:349.7px;font-size:9.8px;color:#202432;font-weight:normal;letter-spacing:0.72px;-webkit-text-stroke:0.15px currentColor;">DIST</div>
<div class="btn show" style="left:891px;top:346px"><svg width="48" height="16"><use href="#ishow"/></svg><b class="shb">SHOW</b></div>
<div class="btn edit" style="left:944px;top:346px"><svg width="44" height="16"><use href="#iedit"/></svg><b class="edb">EDIT</b></div>
<div class="btn cs" style="left:992px;top:346px"><svg width="64" height="16"><use href="#ics"/></svg><b class="csb">CALL SCRIPT</b></div>
<div class="btn nt" style="left:1061px;top:346px"><svg width="64" height="16" style="left:1px"><use href="#ics"/></svg></div>
<div style="position:absolute;left:2px;top:366px;width:1200px;height:21px;background:#fff"></div>
<div style="position:absolute;left:1px;top:387px;width:1200px;height:1px;background:#7a7a7a"></div>
<div style="position:absolute;left:1px;top:366px;width:1px;height:21px;background:#7a7a7a"></div>
<div class="t" style="left:-256.7px;width:600px;text-align:center;top:371.7px;font-size:9.8px;color:#202432;font-weight:normal;letter-spacing:0.72px;-webkit-text-stroke:0.15px currentColor;">Jones, Mike</div>
<div class="t" style="left:-36.39999999999998px;width:600px;text-align:center;top:371.7px;font-size:9.8px;color:#202432;font-weight:normal;letter-spacing:0.72px;-webkit-text-stroke:0.15px currentColor;">Arachne Business Systems</div>
<div class="t" style="left:94.0px;width:600px;text-align:center;top:371.7px;font-size:9.8px;color:#202432;letter-spacing:0.5px;transform:scaleX(1.19);transform-origin:300px 0;-webkit-text-stroke:0.15px currentColor">813/8846648</div>
<div class="t" style="left:192.8px;width:600px;text-align:center;top:371.7px;font-size:9.8px;color:#202432;font-weight:normal;letter-spacing:0.72px;-webkit-text-stroke:0.15px currentColor;">mike@harryjones.com</div>
<div class="t" style="left:269.79999999999995px;width:600px;text-align:center;top:371.7px;font-size:9.8px;color:#202432;font-weight:normal;letter-spacing:0.72px;-webkit-text-stroke:0.15px currentColor;">FL</div>
<div class="t" style="left:307.0px;width:600px;text-align:center;top:371.7px;font-size:9.8px;color:#202432;letter-spacing:0.5px;transform:scaleX(1.19);transform-origin:300px 0;-webkit-text-stroke:0.15px currentColor">33613</div>
<div class="t" style="left:362.79999999999995px;width:600px;text-align:center;top:371.7px;font-size:9.8px;color:#202432;letter-spacing:0.5px;transform:scaleX(1.19);transform-origin:300px 0;-webkit-text-stroke:0.15px currentColor">2004<span style="letter-spacing:1.3px">-</span>05<span style="letter-spacing:1.3px">-</span>14</div>
<div class="t" style="left:416.29999999999995px;width:600px;text-align:center;top:371.7px;font-size:9.8px;color:#202432;font-weight:normal;letter-spacing:0.72px;-webkit-text-stroke:0.15px currentColor;">Ok</div>
<div class="t" style="left:457.5px;width:600px;text-align:center;top:371.7px;font-size:9.8px;color:#202432;letter-spacing:0.5px;transform:scaleX(1.19);transform-origin:300px 0;-webkit-text-stroke:0.15px currentColor">0</div>
<div class="t" style="left:508.5px;width:600px;text-align:center;top:371.7px;font-size:9.8px;color:#202432;letter-spacing:0.5px;transform:scaleX(1.19);transform-origin:300px 0;-webkit-text-stroke:0.15px currentColor">0.00</div>
<div class="t" style="left:562.8px;width:600px;text-align:center;top:371.7px;font-size:9.8px;color:#202432;font-weight:normal;letter-spacing:0.72px;-webkit-text-stroke:0.15px currentColor;">DIST</div>
<div class="btn show" style="left:891px;top:368px"><svg width="48" height="16"><use href="#ishow"/></svg><b class="shb">SHOW</b></div>
<div class="btn edit" style="left:944px;top:368px"><svg width="44" height="16"><use href="#iedit"/></svg><b class="edb">EDIT</b></div>
<div class="btn cs" style="left:992px;top:368px"><svg width="64" height="16"><use href="#ics"/></svg><b class="csb">CALL SCRIPT</b></div>
<div class="btn nt" style="left:1061px;top:368px"><svg width="64" height="16" style="left:1px"><use href="#ics"/></svg></div>
<div style="position:absolute;left:2px;top:388px;width:1200px;height:20px;background:#e6e6e6"></div>
<div style="position:absolute;left:1px;top:408px;width:1200px;height:1px;background:#7a7a7a"></div>
<div style="position:absolute;left:1px;top:388px;width:1px;height:20px;background:#7a7a7a"></div>
<div class="t" style="left:-256.7px;width:600px;text-align:center;top:393.7px;font-size:9.8px;color:#202432;font-weight:normal;letter-spacing:0.72px;-webkit-text-stroke:0.15px currentColor;">Clark, Roy</div>
<div class="t" style="left:-170.7px;width:600px;text-align:center;top:393.7px;font-size:9.8px;color:#202432;font-weight:normal;letter-spacing:0.72px;-webkit-text-stroke:0.15px currentColor;">General Manager</div>
<div class="t" style="left:-36.39999999999998px;width:600px;text-align:center;top:393.7px;font-size:9.8px;color:#202432;font-weight:normal;letter-spacing:0.72px;-webkit-text-stroke:0.15px currentColor;">Rodman and Rodman</div>
<div class="t" style="left:94.0px;width:600px;text-align:center;top:393.7px;font-size:9.8px;color:#202432;letter-spacing:0.5px;transform:scaleX(1.19);transform-origin:300px 0;-webkit-text-stroke:0.15px currentColor">16179655959</div>
<div class="t" style="left:192.8px;width:600px;text-align:center;top:393.7px;font-size:9.8px;color:#202432;font-weight:normal;letter-spacing:0.72px;-webkit-text-stroke:0.15px currentColor;">royclark@openpro.com</div>
<div class="t" style="left:307.0px;width:600px;text-align:center;top:393.7px;font-size:9.8px;color:#202432;letter-spacing:0.5px;transform:scaleX(1.19);transform-origin:300px 0;-webkit-text-stroke:0.15px currentColor">92708</div>
<div class="t" style="left:362.79999999999995px;width:600px;text-align:center;top:393.7px;font-size:9.8px;color:#202432;letter-spacing:0.5px;transform:scaleX(1.19);transform-origin:300px 0;-webkit-text-stroke:0.15px currentColor">2004<span style="letter-spacing:1.3px">-</span>10<span style="letter-spacing:1.3px">-</span>23</div>
<div class="t" style="left:416.29999999999995px;width:600px;text-align:center;top:393.7px;font-size:9.8px;color:#202432;font-weight:normal;letter-spacing:0.72px;-webkit-text-stroke:0.15px currentColor;">Good</div>
<div class="t" style="left:457.5px;width:600px;text-align:center;top:393.7px;font-size:9.8px;color:#202432;letter-spacing:0.5px;transform:scaleX(1.19);transform-origin:300px 0;-webkit-text-stroke:0.15px currentColor">50</div>
<div class="t" style="left:508.5px;width:600px;text-align:center;top:393.7px;font-size:9.8px;color:#202432;letter-spacing:0.5px;transform:scaleX(1.19);transform-origin:300px 0;-webkit-text-stroke:0.15px currentColor">10,000.00</div>
<div class="t" style="left:562.8px;width:600px;text-align:center;top:393.7px;font-size:9.8px;color:#202432;font-weight:normal;letter-spacing:0.72px;-webkit-text-stroke:0.15px currentColor;">fasb</div>
<div class="btn show" style="left:891px;top:390px"><svg width="48" height="16"><use href="#ishow"/></svg><b class="shb">SHOW</b></div>
<div class="btn edit" style="left:944px;top:390px"><svg width="44" height="16"><use href="#iedit"/></svg><b class="edb">EDIT</b></div>
<div class="btn cs" style="left:992px;top:390px"><svg width="64" height="16"><use href="#ics"/></svg><b class="csb">CALL SCRIPT</b></div>
<div class="btn nt" style="left:1061px;top:390px"><svg width="64" height="16" style="left:1px"><use href="#ics"/></svg></div>
<div style="position:absolute;left:2px;top:409px;width:1200px;height:21px;background:#fff"></div>
<div style="position:absolute;left:1px;top:430px;width:1200px;height:1px;background:#7a7a7a"></div>
<div style="position:absolute;left:1px;top:409px;width:1px;height:21px;background:#7a7a7a"></div>
<div class="t" style="left:-256.7px;width:600px;text-align:center;top:414.7px;font-size:9.8px;color:#202432;font-weight:normal;letter-spacing:0.72px;-webkit-text-stroke:0.15px currentColor;">smith, john</div>
<div class="t" style="left:-36.39999999999998px;width:600px;text-align:center;top:414.7px;font-size:9.8px;color:#202432;font-weight:normal;letter-spacing:0.72px;-webkit-text-stroke:0.15px currentColor;">Coughlin, Sheff &amp; Associates, PC</div>
<div class="t" style="left:94.0px;width:600px;text-align:center;top:414.7px;font-size:9.8px;color:#202432;letter-spacing:0.5px;transform:scaleX(1.19);transform-origin:300px 0;-webkit-text-stroke:0.15px currentColor">19782633777</div>
<div class="t" style="left:307.0px;width:600px;text-align:center;top:414.7px;font-size:9.8px;color:#202432;letter-spacing:0.5px;transform:scaleX(1.19);transform-origin:300px 0;-webkit-text-stroke:0.15px currentColor">01720</div>
<div class="t" style="left:362.79999999999995px;width:600px;text-align:center;top:414.7px;font-size:9.8px;color:#202432;letter-spacing:0.5px;transform:scaleX(1.19);transform-origin:300px 0;-webkit-text-stroke:0.15px currentColor">2011<span style="letter-spacing:1.3px">-</span>05<span style="letter-spacing:1.3px">-</span>15</div>
<div class="t" style="left:416.29999999999995px;width:600px;text-align:center;top:414.7px;font-size:9.8px;color:#202432;font-weight:normal;letter-spacing:0.72px;-webkit-text-stroke:0.15px currentColor;">Ok</div>
<div class="t" style="left:457.5px;width:600px;text-align:center;top:414.7px;font-size:9.8px;color:#202432;letter-spacing:0.5px;transform:scaleX(1.19);transform-origin:300px 0;-webkit-text-stroke:0.15px currentColor">0</div>
<div class="t" style="left:508.5px;width:600px;text-align:center;top:414.7px;font-size:9.8px;color:#202432;letter-spacing:0.5px;transform:scaleX(1.19);transform-origin:300px 0;-webkit-text-stroke:0.15px currentColor">0.00</div>
<div class="t" style="left:562.8px;width:600px;text-align:center;top:414.7px;font-size:9.8px;color:#202432;font-weight:normal;letter-spacing:0.72px;-webkit-text-stroke:0.15px currentColor;">fasb</div>
<div class="btn show" style="left:891px;top:411px"><svg width="48" height="16"><use href="#ishow"/></svg><b class="shb">SHOW</b></div>
<div class="btn edit" style="left:944px;top:411px"><svg width="44" height="16"><use href="#iedit"/></svg><b class="edb">EDIT</b></div>
<div class="btn cs" style="left:992px;top:411px"><svg width="64" height="16"><use href="#ics"/></svg><b class="csb">CALL SCRIPT</b></div>
<div class="btn nt" style="left:1061px;top:411px"><svg width="64" height="16" style="left:1px"><use href="#ics"/></svg></div>
<div style="position:absolute;left:2px;top:431px;width:1200px;height:21px;background:#e6e6e6"></div>
<div style="position:absolute;left:1px;top:452px;width:1200px;height:1px;background:#7a7a7a"></div>
<div style="position:absolute;left:1px;top:431px;width:1px;height:21px;background:#7a7a7a"></div>
<div class="t" style="left:-256.0px;width:600px;text-align:center;top:436.7px;font-size:9.8px;color:#202432;letter-spacing:0.5px;transform:scaleX(1.19);transform-origin:300px 0;-webkit-text-stroke:0.15px currentColor">,</div>
<div class="t" style="left:-36.39999999999998px;width:600px;text-align:center;top:436.7px;font-size:9.8px;color:#202432;font-weight:normal;letter-spacing:0.72px;-webkit-text-stroke:0.15px currentColor;">Computer Management Services L</div>
<div class="t" style="left:94.0px;width:600px;text-align:center;top:436.7px;font-size:9.8px;color:#202432;letter-spacing:0.5px;transform:scaleX(1.19);transform-origin:300px 0;-webkit-text-stroke:0.15px currentColor">18005335595</div>
<div class="t" style="left:307.0px;width:600px;text-align:center;top:436.7px;font-size:9.8px;color:#202432;letter-spacing:0.5px;transform:scaleX(1.19);transform-origin:300px 0;-webkit-text-stroke:0.15px currentColor">06498</div>
<div class="t" style="left:362.79999999999995px;width:600px;text-align:center;top:436.7px;font-size:9.8px;color:#202432;letter-spacing:0.5px;transform:scaleX(1.19);transform-origin:300px 0;-webkit-text-stroke:0.15px currentColor">2006<span style="letter-spacing:1.3px">-</span>10<span style="letter-spacing:1.3px">-</span>24</div>
<div class="t" style="left:457.5px;width:600px;text-align:center;top:436.7px;font-size:9.8px;color:#202432;letter-spacing:0.5px;transform:scaleX(1.19);transform-origin:300px 0;-webkit-text-stroke:0.15px currentColor">0</div>
<div class="t" style="left:508.5px;width:600px;text-align:center;top:436.7px;font-size:9.8px;color:#202432;letter-spacing:0.5px;transform:scaleX(1.19);transform-origin:300px 0;-webkit-text-stroke:0.15px currentColor">0.00</div>
<div class="t" style="left:562.8px;width:600px;text-align:center;top:436.7px;font-size:9.8px;color:#202432;font-weight:normal;letter-spacing:0.72px;-webkit-text-stroke:0.15px currentColor;">fasb</div>
<div class="btn show" style="left:891px;top:433px"><svg width="48" height="16"><use href="#ishow"/></svg><b class="shb">SHOW</b></div>
<div class="btn edit" style="left:944px;top:433px"><svg width="44" height="16"><use href="#iedit"/></svg><b class="edb">EDIT</b></div>
<div class="btn cs" style="left:992px;top:433px"><svg width="64" height="16"><use href="#ics"/></svg><b class="csb">CALL SCRIPT</b></div>
<div class="btn nt" style="left:1061px;top:433px"><svg width="64" height="16" style="left:1px"><use href="#ics"/></svg></div>
</div>
</body></html>
